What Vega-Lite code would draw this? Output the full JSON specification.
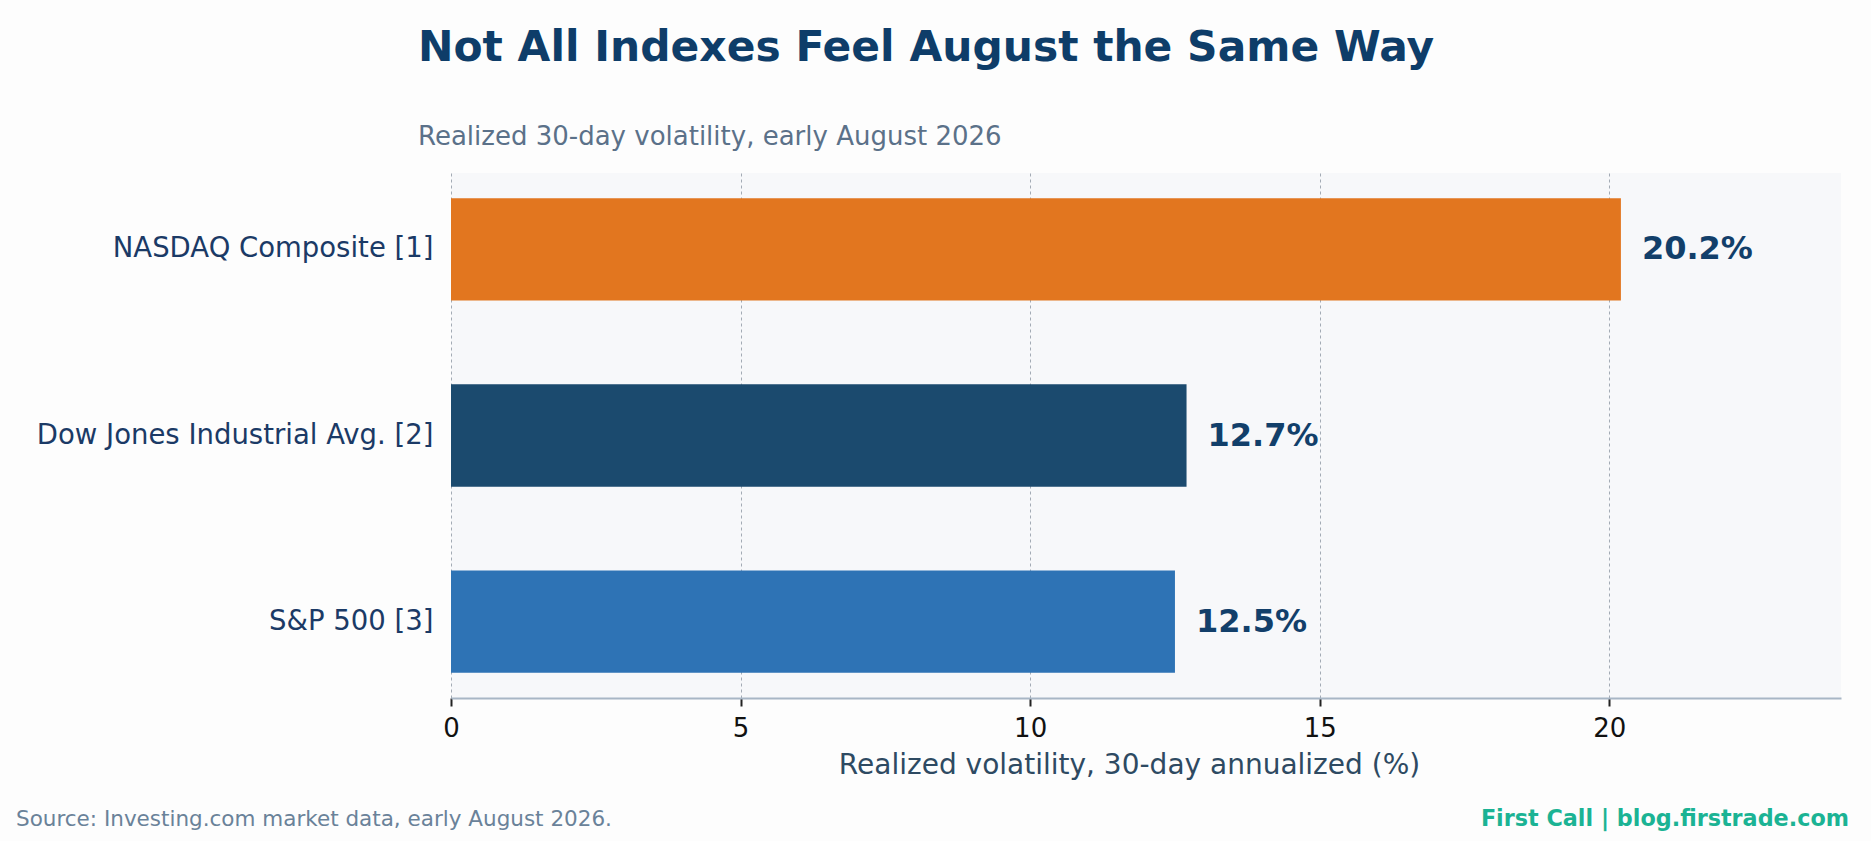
{
  "$schema": "https://vega.github.io/schema/vega-lite/v6.json",
  "width": 1390,
  "height": 525,
  "autosize": {"type": "none"},
  "padding": {"left": 451, "top": 173, "right": 30, "bottom": 143},
  "background": "#FDFDFD",
  "title": {
    "text": "Not All Indexes Feel August the Same Way",
    "subtitle": "Realized 30-day volatility, early August 2026",
    "anchor": "start",
    "frame": "group",
    "dx": -33,
    "font": "DejaVu Sans",
    "fontSize": 42.4,
    "fontWeight": "bold",
    "color": "#0E3D69",
    "subtitleFont": "DejaVu Sans",
    "subtitleFontSize": 26,
    "subtitleColor": "#5B7189",
    "subtitlePadding": 54,
    "offset": 22
  },
  "data": {
    "values": [
      {"index": "NASDAQ Composite [1]", "vol": 20.2, "label": "20.2%"},
      {"index": "Dow Jones Industrial Avg. [2]", "vol": 12.7, "label": "12.7%"},
      {"index": "S&P 500 [3]", "vol": 12.5, "label": "12.5%"}
    ]
  },
  "encoding": {
    "y": {
      "field": "index",
      "type": "nominal",
      "sort": null,
      "title": null,
      "scale": {"paddingInner": 0.45, "paddingOuter": 0.135},
      "axis": {
        "domain": false,
        "ticks": false,
        "labelFont": "DejaVu Sans",
        "labelFontSize": 27.5,
        "labelColor": "#1B3A66",
        "labelPadding": 18,
        "labelLimit": 0
      }
    },
    "x": {
      "field": "vol",
      "type": "quantitative",
      "title": "Realized volatility, 30-day annualized (%)",
      "scale": {"domain": [0, 24], "nice": false},
      "axis": {
        "values": [0, 5, 10, 15, 20],
        "grid": true,
        "gridColor": "#A3ABB5",
        "gridDash": [3, 3],
        "gridWidth": 1,
        "domainColor": "#A8B6C5",
        "domainWidth": 2,
        "tickColor": "#222222",
        "tickWidth": 2,
        "tickSize": 8,
        "labelFont": "DejaVu Sans",
        "labelFontSize": 26,
        "labelColor": "#111111",
        "labelPadding": 9,
        "labelFlush": false,
        "titleFont": "DejaVu Sans",
        "titleFontSize": 28,
        "titleFontWeight": "normal",
        "titleColor": "#2E4A62",
        "titlePadding": 10,
        "titleX": 678,
        "titleAlign": "center"
      }
    }
  },
  "layer": [
    {
      "mark": {"type": "bar"},
      "encoding": {
        "color": {
          "field": "index",
          "type": "nominal",
          "legend": null,
          "scale": {
            "domain": ["NASDAQ Composite [1]", "Dow Jones Industrial Avg. [2]", "S&P 500 [3]"],
            "range": ["#E2761F", "#1B4A6E", "#2E73B5"]
          }
        }
      }
    },
    {
      "mark": {
        "type": "text",
        "align": "left",
        "baseline": "middle",
        "dx": 21,
        "font": "DejaVu Sans",
        "fontSize": 32,
        "fontWeight": "bold",
        "color": "#123F6A"
      },
      "encoding": {"text": {"field": "label"}}
    },
    {
      "data": {"values": [{"note": "Source: Investing.com market data, early August 2026."}]},
      "mark": {
        "type": "text",
        "align": "left",
        "baseline": "alphabetic",
        "dx": -435,
        "dy": 128,
        "font": "DejaVu Sans",
        "fontSize": 21.5,
        "color": "#6A8299"
      },
      "encoding": {
        "text": {"field": "note"},
        "x": {"value": 0},
        "y": {"value": "height"}
      }
    },
    {
      "data": {"values": [{"note": "First Call | blog.firstrade.com"}]},
      "mark": {
        "type": "text",
        "align": "right",
        "baseline": "alphabetic",
        "dx": 8,
        "dy": 128,
        "font": "DejaVu Sans",
        "fontSize": 22.3,
        "fontWeight": "bold",
        "color": "#1BB394"
      },
      "encoding": {
        "text": {"field": "note"},
        "x": {"value": "width"},
        "y": {"value": "height"}
      }
    }
  ],
  "config": {
    "view": {"fill": "#F7F8FA", "stroke": null}
  }
}
